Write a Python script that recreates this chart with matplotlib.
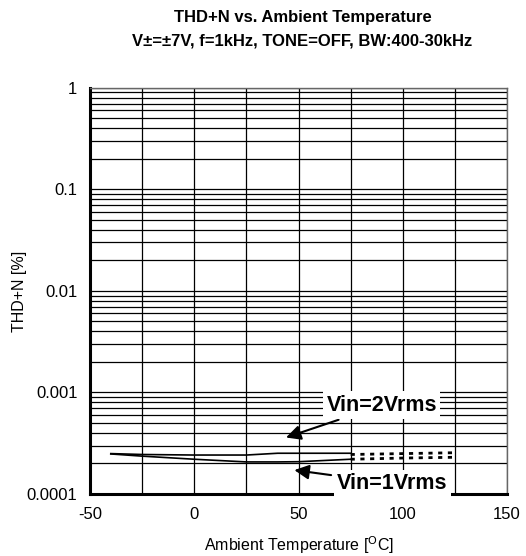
# THD+N vs ambient temperature, two input levels
import matplotlib.pyplot as plt
from matplotlib.ticker import FixedLocator, NullFormatter

plt.rcParams['font.family'] = ['Liberation Sans', 'DejaVu Sans']
plt.rcParams['axes.unicode_minus'] = False

# measured range (solid)
temp = [-40, -25, 0, 25, 40, 50, 75]
thd_1v = [2.48e-4, 2.36e-4, 2.2e-4, 2.07e-4, 2.07e-4, 2.08e-4, 2.2e-4]
thd_2v = [2.5e-4, 2.45e-4, 2.42e-4, 2.42e-4, 2.52e-4, 2.52e-4, 2.52e-4]

# extrapolated range (dotted)
temp_ext = [75, 100, 125]
thd_1v_ext = [2.2e-4, 2.26e-4, 2.3e-4]
thd_2v_ext = [2.45e-4, 2.5e-4, 2.55e-4]

fig = plt.figure(figsize=(5.26, 5.56), dpi=100)
ax = fig.add_axes([0.171, 0.1115, 0.793, 0.7305])

ax.plot(temp, thd_1v, color='black', lw=1.2)
ax.plot(temp, thd_2v, color='black', lw=1.2)
ax.plot(temp_ext, thd_1v_ext, color='black', lw=2, ls=(0, (1.5, 2)))
ax.plot(temp_ext, thd_2v_ext, color='black', lw=2, ls=(0, (1.5, 2)))

ax.set_yscale('log')
ax.set_xlim(-50, 150)
ax.set_ylim(1e-4, 1)
ax.set_xticks([-50, 0, 50, 100, 150])
ax.set_xticks(range(-50, 151, 25), minor=True)
ax.set_yticks([1e-4, 1e-3, 1e-2, 0.1, 1])
ax.set_yticklabels(['0.0001', '0.001', '0.01', '0.1', '1'])
ax.yaxis.set_minor_locator(FixedLocator([m * 10.0 ** e for e in range(-4, 0) for m in range(2, 10)]))
ax.yaxis.set_minor_formatter(NullFormatter())
ax.grid(True, which='both', color='black', lw=0.9)
ax.tick_params(which='both', length=0, labelsize=12, pad=9)
for s in ax.spines.values():
    s.set_linewidth(1)
ax.spines['left'].set_linewidth(2.2)
ax.spines['bottom'].set_linewidth(2.2)
ax.spines['top'].set_color('0.4')
ax.spines['right'].set_color('0.4')

ax.set_xlabel('Ambient Temperature [$^{\\mathrm{O}}$C]', fontsize=11.5, labelpad=9)
ax.set_ylabel('THD+N [%]', fontsize=11.5)
ax.yaxis.set_label_coords(-0.152, 0.5)

box = dict(boxstyle='square,pad=0.15', fc='white', ec='none')
arrow = dict(arrowstyle='-|>', color='black', lw=1.5, mutation_scale=22, shrinkA=2, shrinkB=0)
ax.annotate('Vin=2Vrms', xy=(44, 3.6e-4), xytext=(90, 7.5e-4), ha='center', va='center',
            fontsize=15.5, fontweight='bold', bbox=box, arrowprops=arrow)
ax.annotate('Vin=1Vrms', xy=(48, 1.72e-4), xytext=(95, 1.27e-4), ha='center', va='center',
            fontsize=15.5, fontweight='bold', bbox=box, arrowprops=arrow)

fig.text(0.575, 0.968, 'THD+N vs. Ambient Temperature', ha='center', va='center',
         fontsize=12, fontweight='bold')
fig.text(0.575, 0.926, 'V\u00b1=\u00b17V, f=1kHz, TONE=OFF, BW:400-30kHz', ha='center', va='center',
         fontsize=12, fontweight='bold')

fig.savefig('out.png', dpi=100)
